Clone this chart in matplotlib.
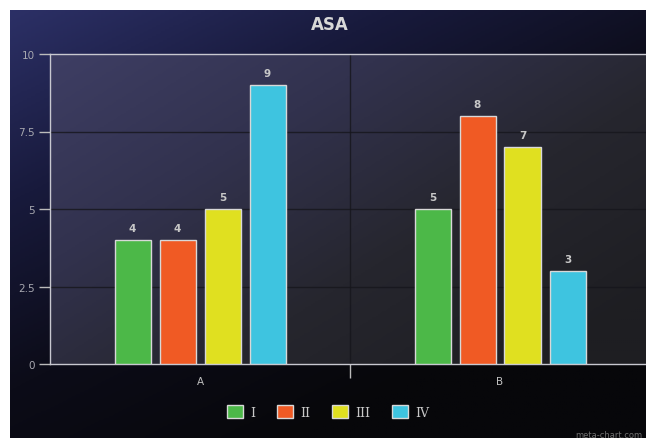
import numpy as np
import matplotlib
matplotlib.use("Agg")
import matplotlib.pyplot as plt
from matplotlib.colors import LinearSegmentedColormap

categories = ["A", "B"]
series_names = ["I", "II", "III", "IV"]
values = {
    "I": [4, 5],
    "II": [4, 8],
    "III": [5, 7],
    "IV": [9, 3],
}
colors = ["#4cb848", "#f05a24", "#e0e020", "#3ec4e0"]
yticks = [0, 2.5, 5, 7.5, 10]
ytick_labels = ["0", "2.5", "5", "7.5", "10"]

W, H = 646, 439
fig = plt.figure(figsize=(W / 100, H / 100), dpi=100, facecolor="white")

# background gradient
bg = fig.add_axes([10 / W, 0, 1 - 10 / W, 1 - 11 / H])
bg.set_axis_off()
ny, nx = 200, 300
yy, xx = np.mgrid[0:1:ny * 1j, 0:1:nx * 1j]
t = np.clip(0.55 * xx + 0.75 * yy, 0, 1)
cmap_bg = LinearSegmentedColormap.from_list("bg", ["#2c3066", "#181a3c", "#0c0c18", "#07070a"])
bg.imshow(t, cmap=cmap_bg, aspect="auto", extent=[0, 1, 0, 1], origin="upper")
bg.set_xlim(0, 1)
bg.set_ylim(0, 1)

ax = fig.add_axes([50 / W, 74 / H, 600 / W, 310 / H])
ax.set_facecolor("none")
t2 = np.clip(0.6 * xx + 0.5 * yy, 0, 1)
cmap_pa = LinearSegmentedColormap.from_list("pa", ["#3e3e64", "#32324e", "#26262e", "#1e1e22"])
ax.imshow(t2, cmap=cmap_pa, aspect="auto", extent=[-0.5, 1.5, 0, 10], origin="upper", zorder=0)

x = np.arange(len(categories))
step = 0.15
width = 0.12
for i, (name, col) in enumerate(zip(series_names, colors)):
    off = (i - 1.5) * step
    bars = ax.bar(x + off, values[name], width, color=col, edgecolor="#d8d8d8",
                  linewidth=1, label=name, zorder=3)
    for b, v in zip(bars, values[name]):
        ax.annotate(str(v), (b.get_x() + b.get_width() / 2, v), xytext=(0, 5),
                    textcoords="offset points", ha="center", va="bottom",
                    color="#c8c8c8", fontsize=7.5, fontweight="bold", zorder=4)

ax.set_xlim(-0.5, 1.5)
ax.set_ylim(0, 10)
ax.set_yticks(yticks)
ax.set_yticklabels(ytick_labels)
ax.set_xticks([0.5])
ax.set_xticklabels([])
ax.set_xticks(x, minor=True)
ax.set_xticklabels(categories, minor=True)
ax.tick_params(axis="x", which="minor", length=0, pad=9, labelcolor="#c0c0c0", labelsize=7.5)
ax.tick_params(axis="x", which="major", length=10, color="#bbbbbb", width=1, direction="out")
ax.tick_params(axis="y", length=8, color="#bbbbbb", width=1, labelcolor="#a8a8b0", labelsize=7.5, pad=3)

for yv in [2.5, 5, 7.5]:
    ax.axhline(yv, color="#16161c", linewidth=1, alpha=0.8, zorder=1)
ax.axvline(0.5, color="#16161c", linewidth=1, alpha=0.8, zorder=1)

for s in ["top", "left", "bottom"]:
    ax.spines[s].set_color("#c8c8d0")
    ax.spines[s].set_linewidth(1)
ax.spines["right"].set_visible(False)

fig.text(330 / W, 1 - 25 / H, "ASA", ha="center", va="center", color="#d8d8d8",
         fontsize=12, fontweight="bold")

leg = fig.legend(loc="center", bbox_to_anchor=(328 / W, 1 - 413 / H), ncol=4,
                 frameon=False, handlelength=1.3, handleheight=1.2, columnspacing=1.7,
                 handletextpad=0.6, prop={"family": "DejaVu Serif", "size": 9})
for txt in leg.get_texts():
    txt.set_color("#c8c8c8")

fig.text(575 / W, 1 - 436 / H, "meta-chart.com", ha="left", va="center", color="#707070", fontsize=6)

fig.savefig("out.png", dpi=100, facecolor="white")
